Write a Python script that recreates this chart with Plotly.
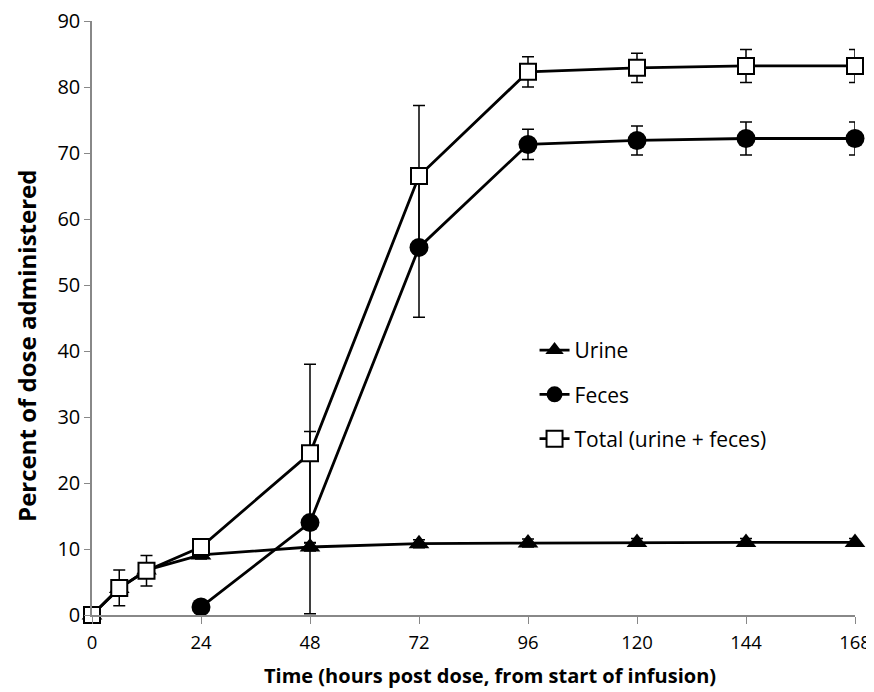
import plotly.graph_objects as go

# Data
hours_urine = [0, 6, 12, 24, 48, 72, 96, 120, 144, 168]
urine = [0, 4.0, 6.8, 9.1, 10.3, 10.8, 10.9, 11.0, 11.0, 11.0]
urine_err = [0, 0.5, 0.5, 0.6, 0.6, 0.6, 0.6, 0.6, 0.6, 0.6]

hours_feces = [24, 48, 72, 96, 120, 144, 168]
feces = [1.2, 14.0, 55.7, 71.3, 71.9, 72.2, 72.2]
feces_err = [0.8, 13.8, 10.6, 2.3, 2.2, 2.5, 2.5]

hours_total = [0, 6, 12, 24, 48, 72, 96, 120, 144, 168]
total = [0, 4.1, 6.7, 10.3, 24.5, 66.5, 82.3, 82.9, 83.2, 83.2]
total_err = [0, 2.7, 2.3, 0.8, 13.5, 10.7, 2.3, 2.2, 2.5, 2.5]

x_ticks = [0, 24, 48, 72, 96, 120, 144, 168]
y_ticks = [0, 10, 20, 30, 40, 50, 60, 70, 80, 90]

x_title = "Time (hours post dose, from start of infusion)"
y_title = "Percent of dose administered"

FONT = "'Open Sans', Lato, sans-serif"

def eb(err):
    return dict(type="data", array=err, visible=True, color="black",
                thickness=1.5, width=6)

fig = go.Figure()
fig.add_trace(go.Scatter(
    x=hours_urine, y=urine, name="Urine", mode="lines+markers",
    line=dict(color="black", width=2.8),
    marker=dict(symbol="triangle-up", size=18, color="black"),
    error_y=eb(urine_err), cliponaxis=False, legendgroup="u"))
fig.add_trace(go.Scatter(
    x=hours_feces, y=feces, name="Feces", mode="lines+markers",
    line=dict(color="black", width=2.8),
    marker=dict(symbol="circle", size=19, color="black"),
    error_y=eb(feces_err), cliponaxis=False, legendgroup="f"))
fig.add_trace(go.Scatter(
    x=hours_total, y=total, name="Total (urine + feces)", mode="lines+markers",
    line=dict(color="black", width=2.8),
    marker=dict(symbol="square", size=16, color="white",
                line=dict(color="black", width=2)),
    error_y=eb(total_err), cliponaxis=False, legendgroup="t"))

# page body has an 8px margin: the figure is sized so that the plot area
# lands where the reference has it
fig.update_layout(
    width=866, height=684,
    margin=dict(l=84, r=19, t=13, b=77),
    paper_bgcolor="white", plot_bgcolor="white",
    font=dict(family=FONT, size=19, color="black"),
    showlegend=True,
    legend=dict(x=0.580, y=0.48, xanchor="left", yanchor="top",
                traceorder="grouped", tracegroupgap=14,
                bgcolor="rgba(0,0,0,0)", font=dict(size=21)),
    xaxis=dict(range=[0, 168], tickvals=x_ticks, showgrid=False,
               showline=True, linecolor="#888888", linewidth=1.5,
               ticks="outside", ticklen=7, tickcolor="#888888",
               zeroline=False, automargin=False, ticklabelstandoff=3,
               ticklabeloverflow="allow", tickfont=dict(size=18.5)),
    yaxis=dict(range=[0, 90], tickvals=y_ticks, showgrid=False,
               showline=True, linecolor="#888888", linewidth=1.5,
               ticks="outside", ticklen=6, tickcolor="#888888",
               zeroline=False, automargin=False,
               ticklabeloverflow="allow", tickfont=dict(size=20)),
    annotations=[
        dict(text="<b>" + x_title + "</b>", xref="paper", yref="paper",
             x=0.5216, y=-0.102, xanchor="center", yanchor="middle",
             showarrow=False, font=dict(size=20)),
        dict(text="<b>" + y_title + "</b>", xref="paper", yref="paper",
             x=-0.0852, y=0.453, xanchor="center", yanchor="middle",
             textangle=-90, showarrow=False, font=dict(size=24)),
    ],
)

fig.write_html("out.html")
